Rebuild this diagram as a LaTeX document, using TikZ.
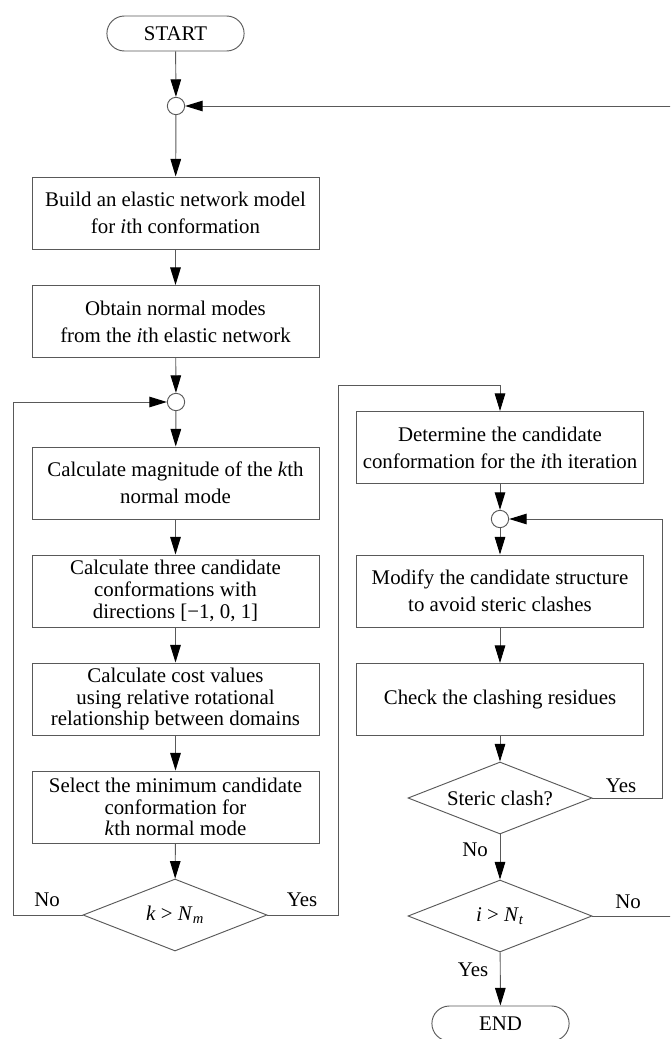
\documentclass[tikz,border=0pt]{standalone}
\usepackage{fontspec}
\setmainfont{Liberation Serif}
\usetikzlibrary{shapes.geometric, shapes.misc, arrows.meta}

\tikzset{
  flow/.style={draw=black!65, line width=0.8pt},
  arr/.style={flow, -{Triangle[length=15pt, width=9pt, color=black]}},
  procbox/.style={draw=black!65, line width=0.8pt, minimum width=8.61cm, minimum height=2.16cm,
    align=center, inner sep=1pt, font=\fontsize{17.8pt}{18.5pt}\selectfont},
  procboxloose/.style={procbox, font=\fontsize{17.8pt}{23pt}\selectfont},
  termbox/.style={draw=black!65, line width=0.8pt, rounded rectangle, minimum width=4.35cm,
    minimum height=1.05cm, font=\fontsize{17.8pt}{18.5pt}\selectfont},
  joint/.style={draw=black!65, line width=0.8pt, circle, minimum size=0.52cm, inner sep=0pt},
  decide/.style={draw=black!65, line width=0.8pt, diamond, aspect=2.55, minimum width=5.52cm,
    minimum height=2.16cm, inner sep=0pt, font=\fontsize{17.8pt}{18.5pt}\selectfont},
  lbl/.style={font=\fontsize{17.8pt}{18.5pt}\selectfont}
}

\begin{document}
\begin{tikzpicture}[x=0.03cm, y=-0.03cm]
    \path [use as bounding box, clip] (0,0) rectangle (670,1039);
    % left column
    \node [termbox] (start) at (175.5,33.5) {START};
    \node [joint] (join1) at (176,106) {};
    \node [procboxloose] (build) at (175.5,213) {Build an elastic network model\\for \textit{i}th conformation};
    \node [procboxloose] (modes) at (175.5,321.5) {Obtain normal modes\\from the \textit{i}th elastic network};
    \node [joint] (join2) at (176,402) {};
    \node [procboxloose] (magn) at (175.5,483) {Calculate magnitude of the \textit{k}th\\normal mode};
    \node [procbox] (three) at (175.5,591) {Calculate three candidate\\conformations with\\directions [−1, 0, 1]};
    \node [procbox] (cost) at (175.5,699) {Calculate cost values\\using relative rotational\\relationship between domains};
    \node [procbox] (select) at (175.5,807) {Select the minimum candidate\\conformation for\\\textit{k}th normal mode};
    \node [decide] (kdec) at (175,915) {\textit{k} > \textit{N}\textsubscript{\textit{m}}};
    % right column
    \node [procboxloose] (determ) at (500,447.5) {Determine the candidate\\conformation for the \textit{i}th iteration};
    \node [joint] (join3) at (500,519) {};
    \node [procboxloose] (modify) at (500,591) {Modify the candidate structure\\to avoid steric clashes};
    \node [procboxloose] (check) at (500,699.5) {Check the clashing residues};
    \node [decide] (clash) at (500,798) {Steric clash?};
    \node [decide] (idec) at (500,916) {\textit{i} > \textit{N}\textsubscript{\textit{t}}};
    \node [termbox] (end) at (500.5,1023.5) {END};
    % corners of the loops
    \coordinate (kno) at (13,915);
    \coordinate (kyes) at (338,915);
    \coordinate (kyestop) at (338,385);
    \coordinate (clyes) at (662,798);
    \coordinate (ino) at (690,916);
    \coordinate (inotop) at (690,106);
    % connectors
    \draw [arr] (start) -- (join1);
    \draw [arr] (join1) -- (build);
    \draw [arr] (build) -- (modes);
    \draw [arr] (modes) -- (join2);
    \draw [arr] (join2) -- (magn);
    \draw [arr] (magn) -- (three);
    \draw [arr] (three) -- (cost);
    \draw [arr] (cost) -- (select);
    \draw [arr] (select) -- (kdec);
    \draw [arr] (kdec.west) -- (kno) |- (join2);
    \draw [arr] (kdec.east) -- (kyes) -- (kyestop) -| (determ);
    \draw [arr] (determ) -- (join3);
    \draw [arr] (join3) -- (modify);
    \draw [arr] (modify) -- (check);
    \draw [arr] (check) -- (clash);
    \draw [arr] (clash.east) -- (clyes) |- (join3);
    \draw [arr] (clash) -- (idec);
    \draw [arr] (idec) -- (end);
    \draw [arr] (idec.east) -- (ino) -- (inotop) -- (join1);
    % branch labels
    \node [lbl] (knolbl) at (47,900) {No};
    \node [lbl] (kyeslbl) at (302,900) {Yes};
    \node [lbl] (clyeslbl) at (621,786) {Yes};
    \node [lbl] (clnolbl) at (475,850) {No};
    \node [lbl] (inolbl) at (628,902) {No};
    \node [lbl] (iyeslbl) at (473,970) {Yes};
\end{tikzpicture}
\end{document}
